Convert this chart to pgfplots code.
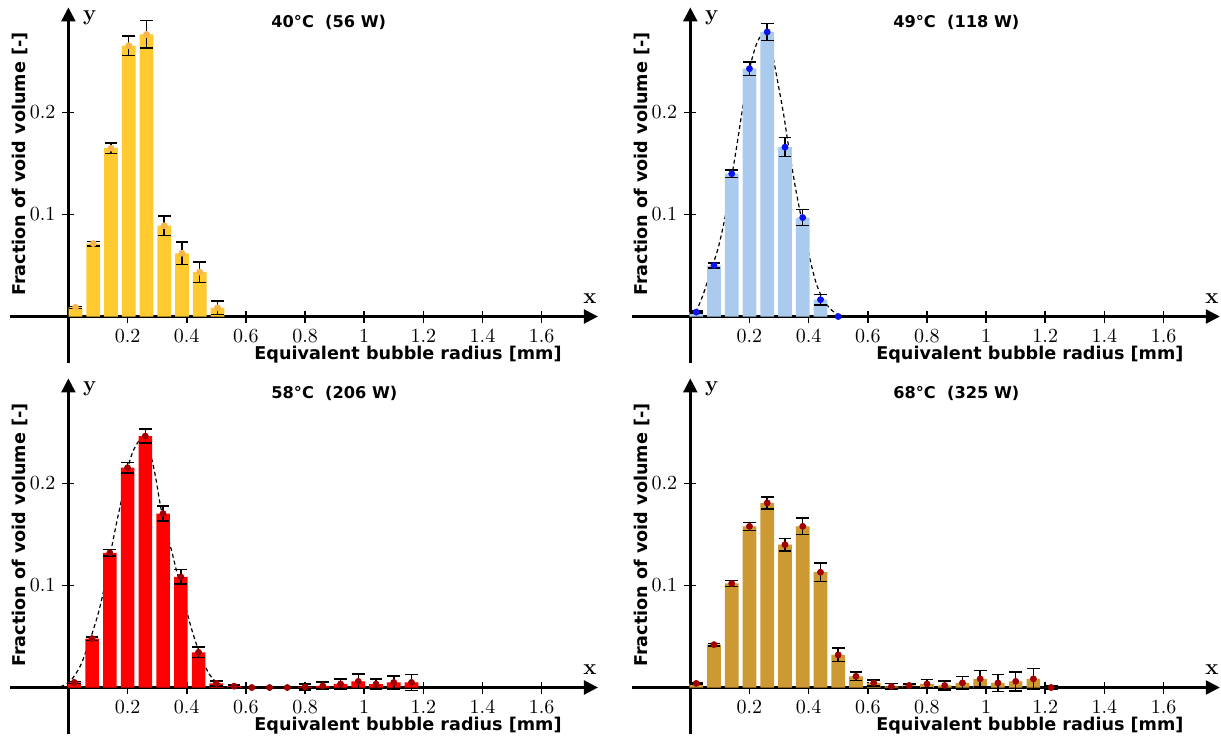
\documentclass[border=0pt]{standalone}
\usepackage{fontspec}
\usepackage{pgfplots}
\usepackage{pgfplotstable}
\pgfplotsset{compat=1.18}
\usetikzlibrary{arrows.meta}
\newfontfamily\djv{DejaVu Sans}
\newcommand\lab{\djv\bfseries\fontsize{8.8}{10}\selectfont}
\newcommand\ttl{\djv\bfseries\fontsize{8.1}{10}\selectfont}
\newcommand\xy{\bfseries\fontsize{11}{12}\selectfont}

\definecolor{cyel}{HTML}{FFCA30}
\definecolor{myel}{HTML}{F7B54A}
\definecolor{cblu}{HTML}{AACBEE}
\definecolor{mblu}{HTML}{0A14F0}
\definecolor{cred}{HTML}{FF0000}
\definecolor{cgold}{HTML}{CC9933}
\definecolor{mred}{HTML}{A00000}

% 40 C
\pgfplotstableread{
x y e
0.024 0.0090 0.0010
0.084 0.0715 0.0022
0.144 0.1650 0.0050
0.204 0.2655 0.0095
0.264 0.2765 0.0135
0.324 0.0890 0.0095
0.384 0.0620 0.0110
0.444 0.0435 0.0100
0.504 0.0085 0.0065
}\dA
% 49 C
\pgfplotstableread{
x y e
0.02 0.0043 0.0010
0.08 0.0500 0.0023
0.14 0.1400 0.0035
0.20 0.2430 0.0066
0.26 0.2790 0.0085
0.32 0.1660 0.0093
0.38 0.0970 0.0080
0.44 0.0165 0.0050
0.50 0.0000 0.0000
}\dB
% 58 C
\pgfplotstableread{
x y e
0.02 0.0050 0.0010
0.08 0.0480 0.0017
0.14 0.1320 0.0033
0.20 0.2155 0.0050
0.26 0.2465 0.0070
0.32 0.1705 0.0074
0.38 0.1085 0.0070
0.44 0.0345 0.0050
0.50 0.0040 0.0026
0.56 0.0013 0.0012
0.62 0.0000 0.0000
0.68 0.0000 0.0000
0.74 0.0000 0.0000
0.80 0.0005 0.0030
0.86 0.0016 0.0037
0.92 0.0035 0.0050
0.98 0.0060 0.0070
1.04 0.0033 0.0050
1.10 0.0050 0.0065
1.16 0.0050 0.0078
}\dC
% 68 C
\pgfplotstableread{
x y e
0.02 0.0040 0.0008
0.08 0.0420 0.0012
0.14 0.1020 0.0028
0.20 0.1580 0.0040
0.26 0.1810 0.0060
0.32 0.1400 0.0060
0.38 0.1580 0.0080
0.44 0.1130 0.0090
0.50 0.0320 0.0065
0.56 0.0110 0.0040
0.62 0.0045 0.0030
0.68 0.0010 0.0030
0.74 0.0020 0.0016
0.80 0.0035 0.0042
0.86 0.0020 0.0045
0.92 0.0045 0.0065
0.98 0.0085 0.0082
1.04 0.0045 0.0082
1.10 0.0060 0.0093
1.16 0.0085 0.0103
1.22 0.0000 0.0020
}\dD

\pgfplotsset{
 panel/.style={
  axis lines=middle, anchor=origin, clip=false,
  x=147.9pt, y=510pt,
  xmin=-0.197, xmax=1.79, ymin=-0.0455, ymax=0.303,
  xtick={0.2,0.4,0.6,0.8,1,1.2,1.4,1.6}, ytick={0.1,0.2},
  tick align=center, major tick length=6pt,
  tick style={black, line width=0.8pt},
  axis line style={line width=1.2pt, -{Triangle[length=7pt,width=7pt]}},
  tick label style={font=\fontsize{9.8}{11}\selectfont},
 },
 bars/.style={ybar, bar shift=0pt, bar width=0.046, fill=#1, draw=none,
  error bars/.cd, y dir=both, y explicit,
  error bar style={black, line width=0.75pt},
  error mark options={rotate=90, black, mark size=3.2pt, line width=0.75pt}},
 dots/.style={only marks, mark=*, mark size=1.5pt, mark options={fill=#1, draw=#1}},
 fit/.style={black, line width=0.6pt, dash pattern=on 2pt off 1.5pt, smooth},
}
\newcommand\decor[1]{%
 \node[font=\lab] at (axis cs:1.148,-0.0377) {Equivalent bubble radius [mm]};
 \node[font=\lab, rotate=90] at (axis cs:-0.164,0.1495) {Fraction of void volume [-]};
 \node[font=\ttl, anchor=west, inner sep=0pt] at (axis cs:0.685,0.288) {#1};
 \node[font=\xy] at (axis cs:0.072,0.293) {y};
 \node[font=\xy] at (axis cs:1.763,0.018) {x};
}

\begin{document}
\begin{tikzpicture}
\begin{axis}[panel, at={(0pt,0pt)}]
\addplot[bars=cyel] table[x=x, y=y, y error=e]{\dA};
\addplot[dots=myel] table[x=x, y=y]{\dA};
\decor{40°C\ \ (56 W)}
\end{axis}

\begin{axis}[panel, at={(310.95pt,0pt)}]
\addplot[fit] coordinates {
 (0.019,0.004) (0.044,0.022) (0.072,0.047) (0.095,0.068) (0.118,0.098)
 (0.140,0.137) (0.157,0.167) (0.174,0.199) (0.191,0.230) (0.208,0.252)
 (0.225,0.268) (0.242,0.276) (0.261,0.273) (0.281,0.252) (0.298,0.226)
 (0.315,0.199) (0.332,0.167) (0.355,0.127) (0.377,0.094) (0.400,0.062)
 (0.423,0.035) (0.445,0.019) (0.473,0.0075) (0.507,0.0)
};
\addplot[bars=cblu] table[x=x, y=y, y error=e]{\dB};
\addplot[dots=mblu] table[x=x, y=y]{\dB};
\decor{49°C\ \ (118 W)}
\end{axis}

\begin{axis}[panel, at={(0pt,-185.5pt)}]
\addplot[fit] coordinates {
 (-0.027,0.0007) (0.007,0.0065) (0.04,0.021) (0.068,0.0425) (0.097,0.0686)
 (0.119,0.0948) (0.142,0.131) (0.164,0.163) (0.181,0.186) (0.198,0.212)
 (0.215,0.229) (0.231,0.2386) (0.245,0.2425) (0.271,0.235) (0.293,0.209)
 (0.31,0.18) (0.327,0.157) (0.349,0.134) (0.366,0.114) (0.383,0.098)
 (0.4,0.075) (0.422,0.052) (0.445,0.0327) (0.473,0.0147) (0.501,0.005)
 (0.535,0.0007)
};
\addplot[bars=cred] table[x=x, y=y, y error=e]{\dC};
\addplot[dots=mred] table[x=x, y=y]{\dC};
\decor{58°C\ \ (206 W)}
\end{axis}

\begin{axis}[panel, at={(310.95pt,-185.5pt)}]
\addplot[bars=cgold] table[x=x, y=y, y error=e]{\dD};
\addplot[dots=mred] table[x=x, y=y]{\dD};
\decor{68°C\ \ (325 W)}
\end{axis}

\pgfresetboundingbox
\path (-34.2pt,158.25pt) rectangle (576.3pt,-209.25pt);
\end{tikzpicture}
\end{document}
